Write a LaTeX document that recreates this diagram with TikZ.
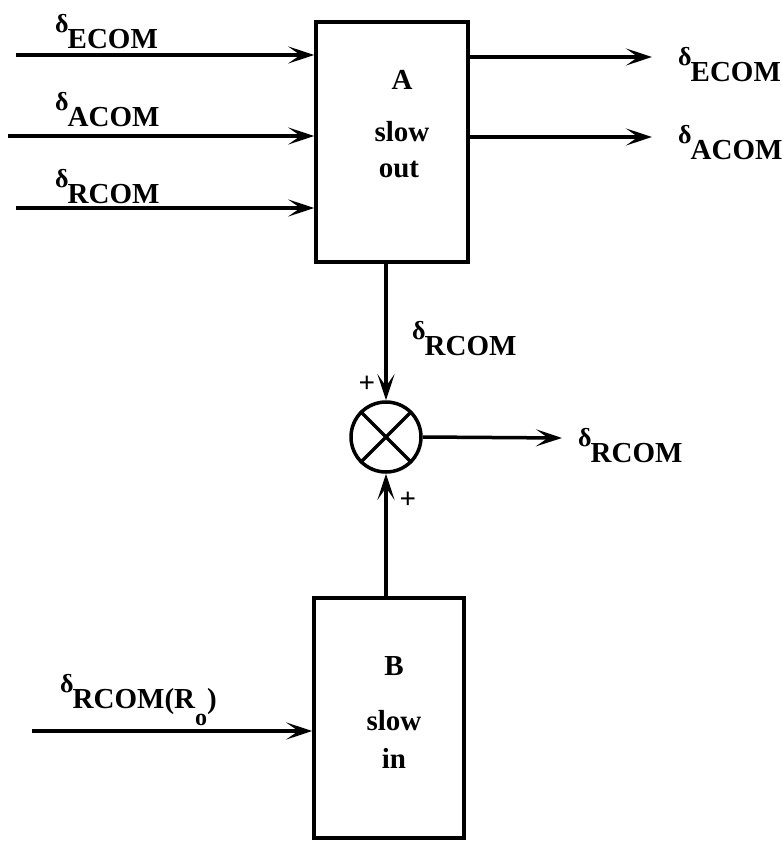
\documentclass[tikz,border=0pt]{standalone}
\usepackage{fontspec}
\setmainfont{Liberation Serif}
\usetikzlibrary{arrows.meta}
\newcommand{\dsz}{\fontsize{26}{26}\selectfont}
\newcommand{\dlab}[1]{\raisebox{16pt}{\dsz\bfseries δ}\kern-1pt #1}
\begin{document}
\begin{tikzpicture}[x=1pt,y=-1pt,
  every node/.style={font=\fontsize{29}{29}\selectfont\bfseries, inner sep=0pt},
  blk/.style={draw, line width=3.5pt, rectangle},
  sig/.style={line width=3.5pt, -{Stealth[length=26pt,width=17pt,inset=12pt]}},
  lbl/.style={anchor=base west}]
\useasboundingbox (0,0) rectangle (783,845);
% blocks
\node[blk, minimum width=152pt, minimum height=240pt] (A) at (392,142) {};
\node[blk, minimum width=150pt, minimum height=240pt] (B) at (389,718) {};
\node[draw, circle, line width=3.5pt, minimum size=70pt] (S) at (386,437) {};
\draw[line width=3.5pt] (S.45) -- (S.225) (S.135) -- (S.-45);
% block texts
\node[anchor=base] (At) at (402,90) {A};
\node[anchor=base] (As) at (402,142) {slow};
\node[anchor=base] (Ao) at (399,178) {out};
\node[anchor=base] (Bt) at (394,675) {B};
\node[anchor=base] (Bs) at (394,730) {slow};
\node[anchor=base] (Bo) at (394,768) {in};
% input coordinates
\coordinate (iE) at (16,55);
\coordinate (iA) at (8,136);
\coordinate (iR) at (16,208);
\coordinate (oE) at (652,57);
\coordinate (oA) at (652,137);
\coordinate (oR) at (562,438);
\coordinate (iB) at (32,731);
% connectors
\draw[sig] (iE) -- (iE -| A.west);
\draw[sig] (iA) -- (iA -| A.west);
\draw[sig] (iR) -- (iR -| A.west);
\draw[sig] (oE -| A.east) -- (oE);
\draw[sig] (oA -| A.east) -- (oA);
\draw[sig] (A.south -| S.north) -- (S.north);
\draw[sig] (B.north -| S.south) -- (S.south);
\draw[sig] (S.east) -- (oR);
\draw[sig] (iB) -- (iB -| B.west);
% labels
\node[lbl] (l1) at (55,49) {\dlab{ECOM}};
\node[lbl] (l2) at (55,127) {\dlab{ACOM}};
\node[lbl] (l3) at (55,203) {\dlab{RCOM}};
\node[lbl] (l4) at (678,82) {\dlab{ECOM}};
\node[lbl] (l5) at (678,160) {\dlab{ACOM}};
\node[lbl] (l6) at (412,355) {\dlab{RCOM}};
\node[lbl] (l7) at (578,462) {\dlab{RCOM}};
\node[lbl] (l8) at (60,708) {\dlab{RCOM(R\raisebox{-17pt}{\fontsize{24}{24}\selectfont o})}};
\node[anchor=center] (p1) at (367,384) {+};
\node[anchor=center] (p2) at (408,500) {+};
\end{tikzpicture}
\end{document}
